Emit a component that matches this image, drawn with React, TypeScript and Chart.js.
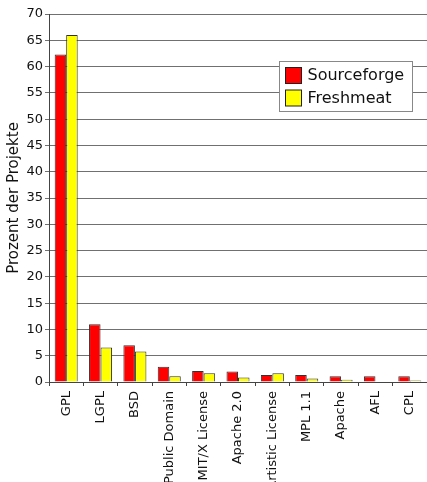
import React, { useEffect, useRef } from "react";
import { Chart, registerables } from "chart.js";

Chart.register(...registerables);

const categories = [
  "GPL", "LGPL", "BSD", "Public Domain", "MIT/X License", "Apache 2.0",
  "Artistic License", "MPL 1.1", "Apache", "AFL", "CPL",
];
const sourceforge = [62.3, 11.0, 7.0, 2.9, 2.1, 2.0, 1.33, 1.33, 1.1, 1.1, 1.1];
const freshmeat = [66.0, 6.55, 5.8, 1.1, 1.65, 0.85, 1.65, 0.65, 0.45, 0.1, 0.3];
const seriesNames = ["Sourceforge", "Freshmeat"];
const seriesColors = ["#ff0000", "#ffff00"];
const yTitle = "Prozent der Projekte";

const FONT = "'DejaVu Sans', sans-serif";

const boxLegend = {
  id: "boxLegend",
  afterDraw(chart: any) {
    const ctx = chart.ctx;
    const x = 279.5, y = 61.5, w = 133, h = 50;
    ctx.save();
    ctx.fillStyle = "#ffffff";
    ctx.strokeStyle = "#888888";
    ctx.lineWidth = 1;
    ctx.fillRect(x, y, w, h);
    ctx.strokeRect(x, y, w, h);
    ctx.font = "16px " + FONT;
    ctx.textBaseline = "middle";
    chart.data.datasets.forEach((ds: any, i: number) => {
      const sy = y + 6 + i * 22.5;
      ctx.fillStyle = ds.backgroundColor;
      ctx.fillRect(x + 6, sy, 16, 16);
      ctx.strokeStyle = "#222";
      ctx.strokeRect(x + 6, sy, 16, 16);
      ctx.fillStyle = "#111";
      ctx.fillText(ds.label, x + 28, sy + 8.5);
    });
    ctx.restore();
  },
};

export default function App() {
  const ref = useRef<HTMLCanvasElement>(null);
  useEffect(() => {
    if (!ref.current) return;
    const chart = new Chart(ref.current, {
      type: "bar",
      data: {
        labels: categories,
        datasets: [
          { label: seriesNames[0], data: sourceforge, backgroundColor: seriesColors[0], borderColor: "#333", borderWidth: 1 },
          { label: seriesNames[1], data: freshmeat, backgroundColor: seriesColors[1], borderColor: "#333", borderWidth: 1 },
        ],
      },
      options: {
        animation: false,
        responsive: false,
        devicePixelRatio: 1,
        layout: { padding: { top: 14, right: 0, left: 0, bottom: 0 } },
        datasets: { bar: { categoryPercentage: 0.67, barPercentage: 1.0 } },
        plugins: { legend: { display: false }, tooltip: { enabled: false } },
        scales: {
          x: {
            grid: { offset: true, drawOnChartArea: false, drawTicks: true, tickLength: 4, color: "#444" },
            border: { color: "#444" },
            ticks: { minRotation: 90, maxRotation: 90, autoSkip: false, color: "#111", font: { family: FONT, size: 13 }, padding: 5 },
            afterFit: (s: any) => { s.height = 100; s.paddingLeft = 0; s.paddingRight = 0; },
          },
          y: {
            min: 0,
            max: 70,
            ticks: { stepSize: 5, color: "#111", font: { family: FONT, size: 13 }, padding: 2 },
            grid: { color: "#707070", tickLength: 4 },
            border: { color: "#444" },
            title: { display: true, text: yTitle, color: "#111", font: { family: FONT, size: 15 }, padding: { top: 5, bottom: 0 } },
            afterFit: (s: any) => { s.width = 49; s.paddingTop = 0; s.paddingBottom = 0; },
          },
        },
      },
      plugins: [boxLegend],
    });
    return () => chart.destroy();
  }, []);
  return (
    <div style={{ position: "fixed", left: 0, top: 0, width: 427, height: 482, background: "#fff" }}>
      <canvas ref={ref} width={427} height={482} style={{ display: "block" }} />
    </div>
  );
}
